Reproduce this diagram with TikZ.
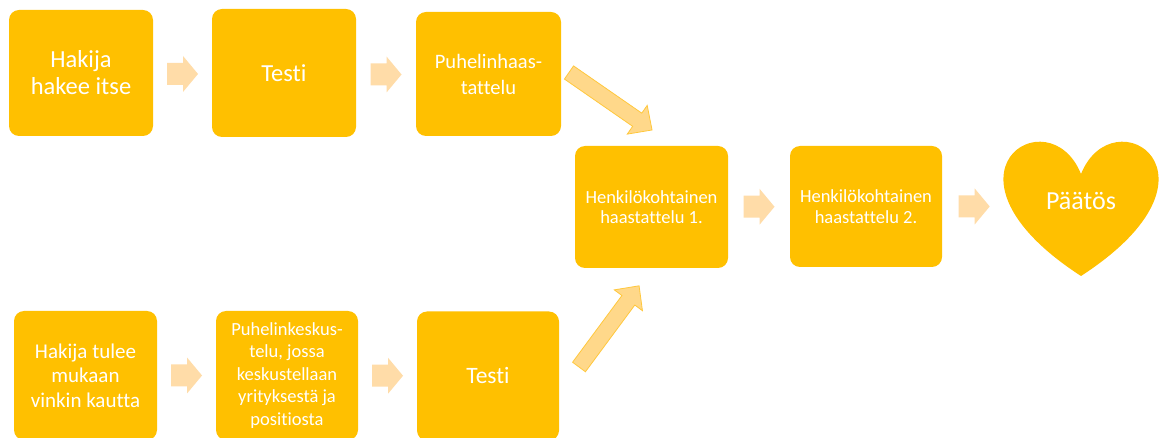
\documentclass[tikz,border=0pt]{standalone}
\usepackage{fontspec}
\setmainfont{Carlito}[Ligatures=NoCommon, RawFeature={-liga;-dlig;-clig}]
\usetikzlibrary{calc}
\definecolor{gold}{HTML}{FFC000}
\definecolor{peach}{HTML}{FFDCA8}
\definecolor{diagfill}{HTML}{FFD88A}
\definecolor{diagline}{HTML}{FFC83D}
\begin{document}
\begin{tikzpicture}[x=1pt,y=-1pt,
  box/.style={fill=gold, rounded corners=10pt, text=white, align=center, inner sep=0pt},
  topbox/.style={box, minimum width=144pt, minimum height=126pt},
  midbox/.style={box, minimum width=152pt, minimum height=121pt,
    font=\fontsize{18.5pt}{20.5pt}\selectfont},
  botbox/.style={box, minimum width=143pt, minimum height=129pt},
  hblock/.pic={\fill[peach] (-15.5,-11) -- (0.5,-11) -- (0.5,-18) -- (15.5,0) -- (0.5,18) -- (0.5,11) -- (-15.5,11) -- cycle;},
  dblock/.pic={\filldraw[fill=diagfill, draw=diagline, line width=0.8pt, line join=miter]
    (0,-8) -- (83,-8) -- (83,-17.5) -- (101,0) -- (83,17.5) -- (83,8) -- (0,8) -- cycle;}
]
\useasboundingbox (0,0) rectangle (1160,438);
\fill[white] (0,0) rectangle (1160,438);

% top row
\node[topbox, font=\fontsize{24.5pt}{27pt}\selectfont] (b1) at (81,73) {Hakija\\hakee itse};
\node[topbox, minimum height=128pt, font=\fontsize{24.5pt}{27pt}\selectfont] (b2) at (284,73) {Testi};
\node[topbox, minimum width=145pt, minimum height=124pt, font=\fontsize{20.5pt}{26pt}\selectfont] (b3) at (488.5,74) {Puhelinhaas-\\tattelu};

% middle row
\node[midbox, minimum width=153pt, minimum height=122pt] (b4) at (651.5,207) {Henkilökohtainen\\haastattelu 1.};
\node[midbox] (b5) at (866,206.5) {Henkilökohtainen\\haastattelu 2.};

% heart
\fill[gold] (1081,174) .. controls (1113.1,94.7) and (1238.2,174) .. (1081,276)
  .. controls (923.8,174) and (1048.9,94.7) .. (1081,174) -- cycle;
\node[text=white, inner sep=0pt, font=\fontsize{26pt}{30pt}\selectfont] (h) at (1081,201) {Päätös};

% bottom row
\node[botbox, font=\fontsize{21pt}{24.5pt}\selectfont] (b6) at (85.5,375.5) {Hakija tulee\\mukaan\\vinkin kautta};
\node[botbox, minimum width=142pt, font=\fontsize{18.5pt}{22.5pt}\selectfont] (b7) at (287,375.5) {Puhelinkeskus-\\telu, jossa\\keskustellaan\\yrityksestä ja\\positiosta};
\node[botbox, minimum width=142pt, font=\fontsize{23.5pt}{27pt}\selectfont] (b8) at (488,376) {Testi};

% horizontal block arrows
\coordinate (a1) at ($(b1.east)!0.5!(b2.west)$);
\coordinate (a2) at ($(b2.east)!0.5!(b3.west)$);
\coordinate (a3) at ($(b4.east)!0.5!(b5.west)$);
\coordinate (a4) at ($(b5.east)+(32,0)$);
\coordinate (a5) at ($(b6.east)!0.5!(b7.west)$);
\coordinate (a6) at ($(b7.east)!0.5!(b8.west)$);
\pic at ([yshift=-1pt]a1) {hblock};
\pic at ([yshift=-1pt]a2) {hblock};
\pic at (a3) {hblock};
\pic at (a4) {hblock};
\pic at (a5) {hblock};
\pic at (a6) {hblock};

% diagonal block arrows
\coordinate (d1) at (569,72.5);
\coordinate (d2) at (579,367);
\pic[rotate=-34.7] at (d1) {dblock};
\pic[rotate=53.5] at (d2) {dblock};
\end{tikzpicture}
\end{document}
